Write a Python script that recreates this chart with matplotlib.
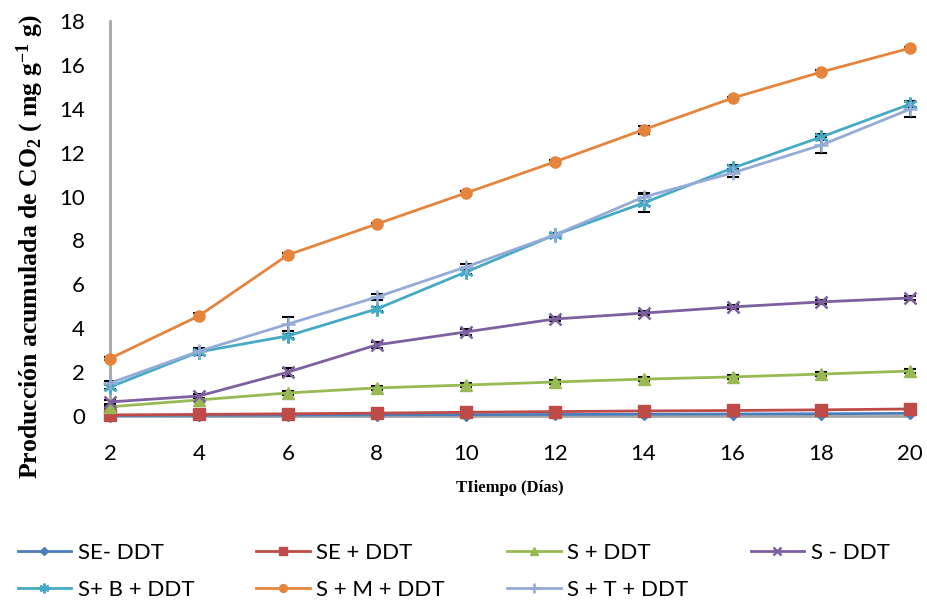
import numpy as np
import matplotlib
matplotlib.use("Agg")
import matplotlib.pyplot as plt

plt.rcParams["mathtext.fontset"] = "custom"
plt.rcParams["mathtext.rm"] = "Liberation Serif:bold"
plt.rcParams["mathtext.bf"] = "Liberation Serif:bold"
plt.rcParams["mathtext.default"] = "bf"

# días de incubación
dias = [2, 4, 6, 8, 10, 12, 14, 16, 18, 20]

# CO2 acumulado (mg g-1 g) por tratamiento
se_sin = [0.02, 0.03, 0.04, 0.05, 0.06, 0.07, 0.08, 0.09, 0.10, 0.12]
se_con = [0.05, 0.07, 0.10, 0.13, 0.17, 0.20, 0.23, 0.25, 0.28, 0.32]
s_con = [0.42, 0.73, 1.05, 1.28, 1.41, 1.55, 1.68, 1.78, 1.91, 2.05]
s_sin = [0.64, 0.91, 2.00, 3.24, 3.83, 4.42, 4.69, 4.97, 5.20, 5.38]
sb_con = [1.32, 2.92, 3.65, 4.88, 6.56, 8.25, 9.71, 11.30, 12.72, 14.22]
sm_con = [2.62, 4.56, 7.34, 8.75, 10.16, 11.58, 13.05, 14.49, 15.68, 16.77]
st_con = [1.50, 2.95, 4.19, 5.42, 6.79, 8.25, 9.98, 11.08, 12.35, 13.99]

# desviación estándar
err_se_sin = [0.01, 0.01, 0.01, 0.01, 0.01, 0.01, 0.01, 0.01, 0.01, 0.01]
err_se_con = [0.02, 0.02, 0.02, 0.03, 0.03, 0.03, 0.04, 0.04, 0.05, 0.05]
err_s_con = [0.05, 0.06, 0.08, 0.08, 0.08, 0.09, 0.09, 0.09, 0.08, 0.08]
err_s_sin = [0.08, 0.10, 0.20, 0.12, 0.12, 0.10, 0.10, 0.10, 0.10, 0.08]
err_sb_con = [0.10, 0.12, 0.10, 0.10, 0.10, 0.10, 0.40, 0.12, 0.12, 0.12]
err_sm_con = [0.05, 0.12, 0.08, 0.06, 0.10, 0.10, 0.18, 0.06, 0.08, 0.06]
err_st_con = [0.10, 0.15, 0.30, 0.12, 0.12, 0.10, 0.20, 0.20, 0.35, 0.35]

series = [
    ("SE- DDT", se_sin, err_se_sin, "#4A7EBB", "D", 6),
    ("SE + DDT", se_con, err_se_con, "#BE4B48", "s", 8),
    ("S + DDT", s_con, err_s_con, "#98B954", "^", 8),
    ("S - DDT", s_sin, err_s_sin, "#7D60A0", "x", 8),
    ("S+ B + DDT", sb_con, err_sb_con, "#46AAC5", (6, 2, 0), 10),
    ("S + M + DDT", sm_con, err_sm_con, "#E5843D", "o", 8),
    ("S + T + DDT", st_con, err_st_con, "#93ABD6", "+", 10),
]

fig = plt.figure(figsize=(9.28, 6.02), dpi=100)
ax = fig.add_axes([0.1185, 0.309, 0.8625, 0.656])

handles = []
for nombre, y, e, color, mk, ms in series:
    ax.errorbar(dias, y, yerr=e, fmt="none", ecolor="black", elinewidth=1.2,
                capsize=4, capthick=1.5, zorder=2, clip_on=False)
    h, = ax.plot(dias, y, color=color, lw=2, marker=mk, markersize=ms,
                 markeredgewidth=1.8 if mk in ("x", "+") or isinstance(mk, tuple) else 1,
                 markeredgecolor=color, label=nombre, zorder=3, clip_on=False)
    handles.append(h)

ax.set_xlim(2, 20)
ax.set_ylim(0, 18)
ax.set_xticks(dias)
ax.set_yticks(np.arange(0, 19, 2))
ax.tick_params(length=0, labelsize=16)
ax.tick_params(axis="y", pad=18)
ax.tick_params(axis="x", pad=20)
for lab in ax.get_xticklabels() + ax.get_yticklabels():
    lab.set_fontfamily("Lato")

for s in ["top", "right"]:
    ax.spines[s].set_visible(False)
for s in ["left", "bottom"]:
    ax.spines[s].set_color("#A6A6A6")
    ax.spines[s].set_linewidth(2)

ax.set_xlabel("TIiempo (Días)", fontfamily="Liberation Serif",
              fontweight="bold", fontsize=12, labelpad=12)
ax.set_ylabel(r"Producción acumulada de CO$_{2}$ ( mg g$^{-1}$ g)",
              fontfamily="Liberation Serif", fontweight="bold", fontsize=18.5)
ax.yaxis.set_label_coords(-0.08, 0.43)

# leyenda por filas: 4 arriba, 3 abajo
orden = [0, 4, 1, 5, 2, 6, 3]
fig.legend([handles[i] for i in orden], [series[i][0] for i in orden],
           loc="upper left", bbox_to_anchor=(0.019, 0.098), ncol=4,
           frameon=False, prop={"family": "Lato", "size": 16},
           borderpad=0, borderaxespad=0,
           handlelength=2.4, columnspacing=2.8, handletextpad=0.3,
           labelspacing=0.75, markerscale=0.7)

fig.savefig("out.png", dpi=100)
